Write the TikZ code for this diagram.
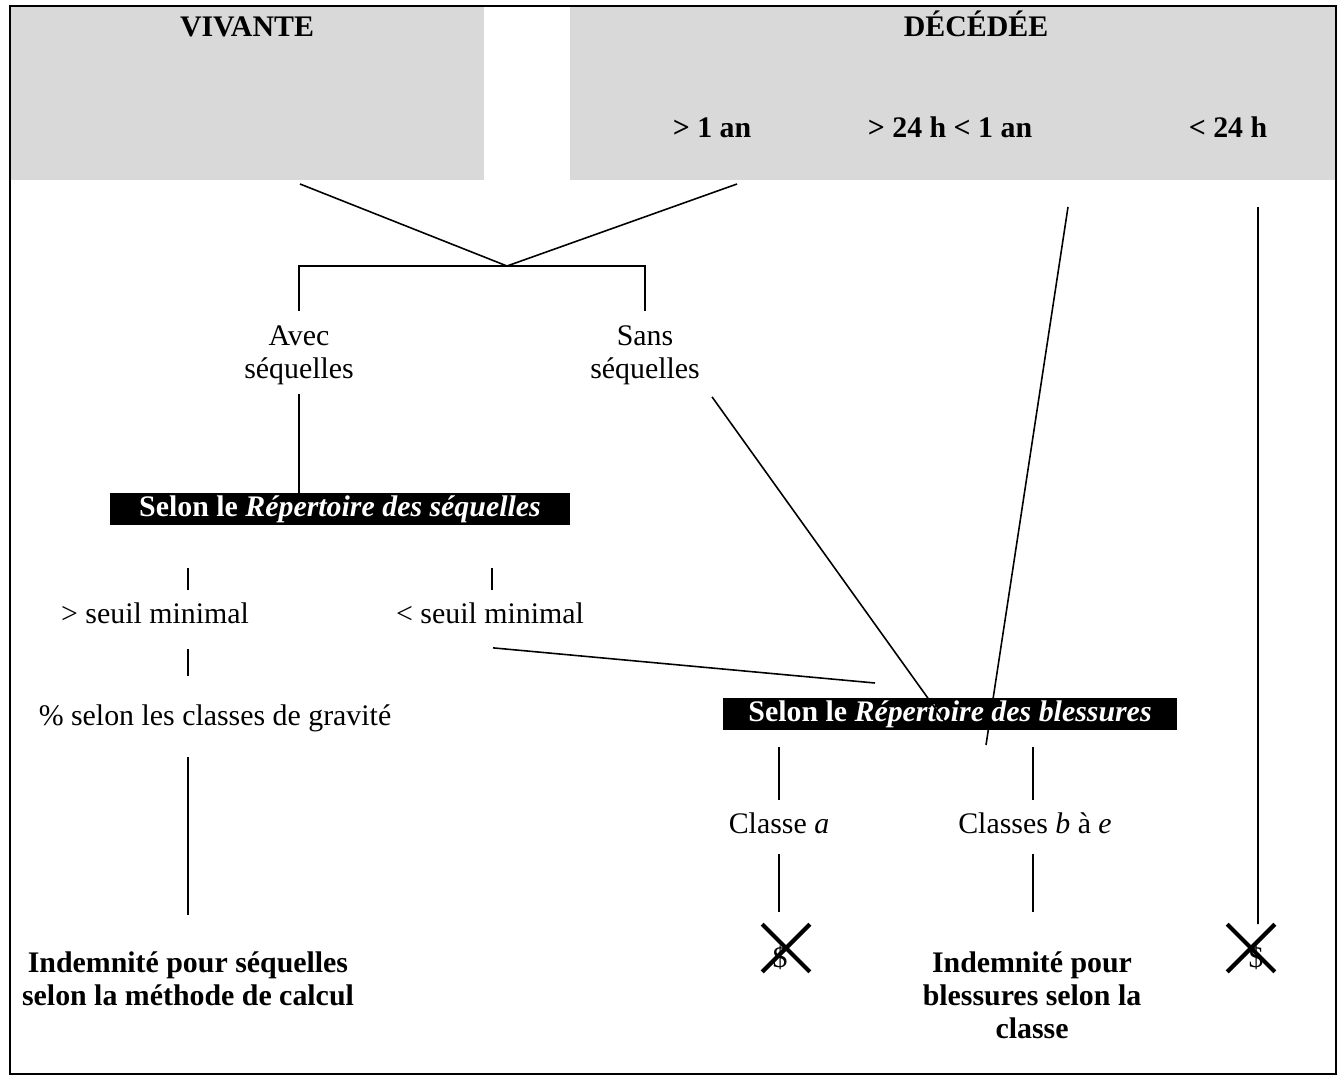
\documentclass[tikz,border=0pt]{standalone}
\usepackage{fontspec}
\setmainfont{Liberation Serif}
\usetikzlibrary{positioning}
\definecolor{gris}{RGB}{217,217,217}

\tikzset{
  texte/.style={font=\fontsize{17}{18.7}\selectfont, align=center, inner sep=0pt},
  titre/.style={texte, font=\fontsize{17}{18.7}\selectfont\bfseries},
  bandeau/.style={fill=black, text=white, font=\fontsize{17}{18.7}\selectfont\bfseries, minimum height=0.64cm, inner sep=0pt},
  trait/.style={line width=0.9pt},
  croix/.style={line width=2.4pt},
}

\begin{document}
\begin{tikzpicture}[x=0.02cm, y=-0.02cm]
\useasboundingbox (0,0) rectangle (1338,1075);

% en-tetes gris et cadre
\fill[gris] (11,7) rectangle (484,180);
\fill[gris] (570,7) rectangle (1335,180);
\draw[line width=1.1pt] (10,6) rectangle (1336,1074);

\node[titre, anchor=base] (vivante) at (247,36) {VIVANTE};
\node[titre, anchor=base] (decedee) at (976,36) {DÉCÉDÉE};
\node[titre, anchor=base] (plusan) at (712,137) {> 1 an};
\node[titre, anchor=base] (entre) at (950,137) {> 24 h < 1 an};
\node[titre, anchor=base] (moins24) at (1228,137) {< 24 h};

% victime vivante ou deces apres 1 an
\coordinate (vhaut) at (300,184);
\coordinate (ahaut) at (737,184);
\coordinate (jonction) at (507,266);
\draw[trait] (vhaut) -- (jonction) -- (ahaut);

\node[texte] (avec) at (299,355) {Avec\\séquelles};
\node[texte] (sans) at (645,355) {Sans\\séquelles};
\draw[trait] (avec.north) ++(0,-14) |- (jonction) -| ([yshift=0.28cm]sans.north);

\node[bandeau, minimum width=9.2cm] (repseq) at (340,509) {Selon le \textit{Répertoire des séquelles}\hspace{0.48cm}};
\draw[trait, shorten <=5pt] (avec.south) -- (avec.south |- repseq.north);

\node[texte] (plusseuil) at (155,613) {> seuil minimal};
\node[texte] (moinsseuil) at (490,613) {< seuil minimal};
\node[texte] (pourcent) at (215,718) {\% selon les classes de gravité};
\node[titre] (indseq) at (188,979) {Indemnité pour séquelles\\selon la méthode de calcul};

\draw[trait] (plusseuil.north -| indseq.north) ++(0,-12) -- ++(0,-22);
\draw[trait] (moinsseuil.north) ++(2,-12) -- ++(0,-22);
\draw[trait] (pourcent.north -| indseq.north) ++(0,-28) -- ++(0,-27);
\draw[trait] (indseq.north) ++(0,-37) -- ++(0,-158);

% repertoire des blessures
\node[bandeau, minimum width=9.1cm] (repbles) at (950,714) {Selon le \textit{Répertoire des blessures}};

\coordinate (finseuil) at (875,683);
\coordinate (dansbles) at (945,722);
\coordinate (hautentre) at (1068,207);
\coordinate (basentre) at (986,745);
\draw[trait] (moinsseuil.south) ++(3,24) -- (finseuil);
\draw[trait] (sans.south) ++(67,12) -- (dansbles);
\draw[trait] (hautentre) -- (basentre);

\node[texte] (classea) at (779,823) {Classe \textit{a}};
\node[texte] (classesbe) at (1035,823) {Classes \textit{b} à \textit{e}};
\node[titre] (indbles) at (1032,995) {Indemnité pour\\blessures selon la\\classe};

\draw[trait] (classea.north) ++(0,-12) -- ++(0,-53);
\draw[trait] (classesbe.north) ++(-2,-12) -- ++(0,-53);
\draw[trait] (classea.south) ++(0,20) -- ++(0,58);
\draw[trait] (classesbe.south) ++(-2,20) -- ++(0,58);

% aucune indemnite
\node[texte] (dollara) at (780,958) {\$};
\node[minimum size=0.94cm, inner sep=0pt] (croixa) at (786,948) {};
\draw[croix] (croixa.north west) -- (croixa.south east);
\draw[croix] (croixa.north east) -- (croixa.south west);

\node[texte] (dollarb) at (1256,958) {\$};
\node[minimum size=0.94cm, inner sep=0pt] (croixb) at (1251,948) {};
\draw[croix] (croixb.north west) -- (croixb.south east);
\draw[croix] (croixb.north east) -- (croixb.south west);

\coordinate (haut24) at (1258,207);
\draw[trait] (haut24) -- (haut24 |- croixb.north) -- ++(0,-16);

\end{tikzpicture}
\end{document}
